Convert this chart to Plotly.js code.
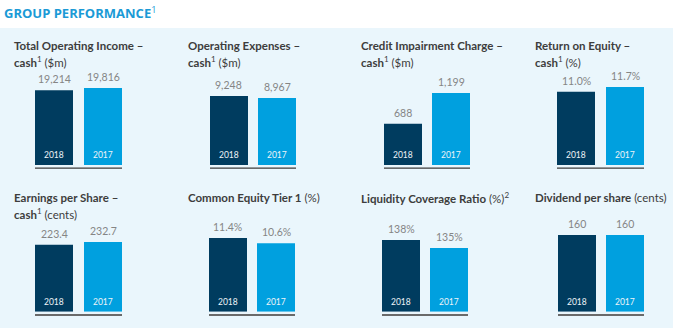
<!DOCTYPE html>
<html><head><meta charset="utf-8">
<script src="https://cdn.plot.ly/plotly-3.0.1.min.js"></script>
<style>html,body{margin:0;padding:0;background:#fff}#chart{width:673px;height:328px}</style>
</head><body><div id="chart"></div>
<script>
// ---- data ----
const years = ['2018', '2017'];
const totalOperatingIncome = [19214, 19816];
const operatingExpenses = [9248, 8967];
const creditImpairmentCharge = [688, 1199];
const returnOnEquity = [11.0, 11.7];
const earningsPerShare = [223.4, 232.7];
const commonEquityTier1 = [11.4, 10.6];
const liquidityCoverageRatio = [138, 135];
const dividendPerShare = [160, 160];

const titleLine1 = [
  '<b>Total Operating Income –</b>',
  '<b>Operating Expenses –</b>',
  '<b>Credit Impairment Charge –</b>',
  '<b>Return on Equity –</b>',
  '<b>Earnings per Share –</b>',
  '<b>Common Equity Tier 1</b> (%)',
  '<b>Liquidity Coverage Ratio</b> (%)<sup>2</sup>',
  '<b>Dividend per share</b> (cents)'
];
const titleLine2 = [
  '<b>cash</b><sup>1</sup> ($m)',
  '<b>cash</b><sup>1</sup> ($m)',
  '<b>cash</b><sup>1</sup> ($m)',
  '<b>cash</b><sup>1</sup> (%)',
  '<b>cash</b><sup>1</sup> (cents)',
  '', '', ''
];
const decimals = [0, 0, 0, 1, 1, 1, 0, 0];
const suffixes = ['', '', '', '%', '', '%', '%', ''];

// ---- layout geometry ----
const W = 673, H = 328;
const px = x => x / W;
const py = y => 1 - y / H;
const series = [totalOperatingIncome, operatingExpenses, creditImpairmentCharge, returnOnEquity,
                earningsPerShare, commonEquityTier1, liquidityCoverageRatio, dividendPerShare];
const centers = [[54,103],[229,277],[403,451],[576,625],[54,103],[228,276],[401,449],[577,625]];
const ranges = [[0,20588],[0,10722],[0,1332],[0,12.0],[0,267.1],[0,12.37],[111.1,141.1],[0,166.9]];
const titleX = [12, 186, 359, 533, 12, 186, 359, 533];
const rowBottom = [165, 311.7];
const rowTop = [85, 231.7];
const titleY = [[45, 61], [197, 213]];
const barPx = 38;
const colors = ['#003c5f', '#00a0df'];

const data = [];
const layout = {
  width: W, height: H,
  margin: {l: 0, r: 0, t: 0, b: 0},
  paper_bgcolor: '#ffffff',
  plot_bgcolor: 'rgba(0,0,0,0)',
  showlegend: false,
  font: {family: 'Lato, sans-serif'},
  shapes: [{type: 'rect', xref: 'paper', yref: 'paper', x0: 0, x1: 1, y0: 0, y1: py(28),
            fillcolor: '#eaf6fc', line: {width: 0}, layer: 'below'}],
  annotations: [{
    xref: 'paper', yref: 'paper', x: px(2), y: py(12), xanchor: 'left', yanchor: 'middle',
    text: '<b>GROUP PERFORMANCE</b><sup>1</sup>', showarrow: false,
    font: {family: 'Open Sans, sans-serif', size: 13, color: '#1b9ad6'}
  }]
};

series.forEach((vals, i) => {
  const row = i < 4 ? 0 : 1;
  const n = i + 1;
  const xa = 'x' + (n === 1 ? '' : n), ya = 'y' + (n === 1 ? '' : n);
  const [c0, c1] = centers[i];
  const s = c1 - c0;
  const w = barPx / s;
  const base = ranges[i][0];
  layout['xaxis' + (n === 1 ? '' : n)] = {
    domain: [px(c0 - s / 2), px(c1 + s / 2)], range: [-0.5, 1.5], type: 'linear',
    visible: false, fixedrange: true, anchor: ya
  };
  layout['yaxis' + (n === 1 ? '' : n)] = {
    domain: [py(rowBottom[row]), py(rowTop[row])], range: ranges[i],
    visible: false, fixedrange: true, anchor: xa
  };
  const idx = years.map((_, j) => j);
  data.push({
    type: 'bar', x: idx, y: vals.map(v => v - base), base: base, xaxis: xa, yaxis: ya, width: w,
    marker: {color: colors, line: {width: 0}}, hoverinfo: 'skip'
  });
  vals.forEach((v, j) => {
    // value label above bar
    layout.annotations.push({
      xref: xa, yref: ya, x: j, y: v, yanchor: 'middle', yshift: 11, showarrow: false,
      text: v.toLocaleString('en-US', {minimumFractionDigits: decimals[i], maximumFractionDigits: decimals[i]}) + suffixes[i],
      font: {family: 'Lato, sans-serif', size: 10.5, color: '#858585'}
    });
    // year label inside bar
    layout.annotations.push({
      xref: xa, yref: ya, x: j, y: base, yanchor: 'middle', yshift: 10, showarrow: false,
      text: years[j], font: {family: 'Lato, sans-serif', size: 8.5, color: '#eef4f8'}
    });
  });
  // baseline rule
  layout.shapes.push({
    type: 'line', xref: xa, yref: 'paper', x0: -w / 2, x1: 1 + w / 2,
    y0: py(rowBottom[row] + 3.2), y1: py(rowBottom[row] + 3.2),
    line: {color: row === 0 ? '#3a3a3a' : '#6a6a6a', width: row === 0 ? 1.3 : 2}
  });
  // titles
  layout.annotations.push({
    xref: 'paper', yref: 'paper', x: px(titleX[i]), y: py(titleY[row][0]), xanchor: 'left', yanchor: 'middle',
    showarrow: false, text: titleLine1[i], font: {family: 'Lato, sans-serif', size: 11.5, color: '#3d3d3d'}
  });
  if (titleLine2[i]) {
    layout.annotations.push({
      xref: 'paper', yref: 'paper', x: px(titleX[i]), y: py(titleY[row][1]), xanchor: 'left', yanchor: 'middle',
      showarrow: false, text: titleLine2[i], font: {family: 'Lato, sans-serif', size: 11.5, color: '#3d3d3d'}
    });
  }
});

Plotly.newPlot('chart', data, layout, {staticPlot: true, displayModeBar: false});
</script></body></html>
